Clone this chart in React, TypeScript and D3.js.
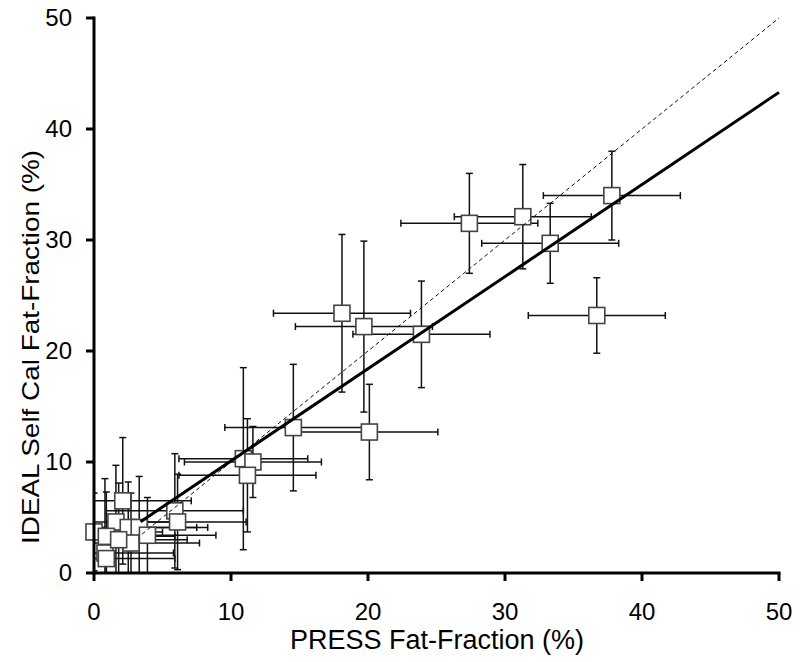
import React from "react";
import * as d3 from "d3";

// PRESS fat-fraction (x), IDEAL self-cal fat-fraction (y), and their error half-widths
const pressFF = [37.8, 31.3, 27.4, 33.3, 36.7, 23.9, 18.1, 19.7, 20.1, 14.55, 10.9, 11.6, 11.2,
  2.1, 1.6, 0.0, 0.9, 2.5, 3.3, 2.7, 3.9, 0.8, 0.9, 5.9, 6.1, 1.8];
const idealFF = [34.0, 32.1, 31.5, 29.7, 23.2, 21.5, 23.4, 22.2, 12.7, 13.1, 10.3, 10.0, 8.8,
  6.5, 4.6, 3.7, 3.3, 4.1, 4.1, 2.7, 3.4, 1.8, 1.3, 5.6, 4.6, 3.0];
const pressErr = [5.0, 5.0, 5.0, 5.0, 5.0, 5.0, 5.0, 5.0, 5.0, 5.0, 4.7, 5.0, 5.0,
  5.0, 5.0, 5.0, 5.0, 5.0, 5.0, 5.0, 5.0, 5.0, 5.0, 5.0, 5.0, 5.0];
const idealErr = [4.0, 4.7, 4.5, 3.6, 3.4, 4.8, 7.1, 7.7, 4.3, 5.7, 8.2, 3.2, 5.1,
  5.7, 5.1, 3.5, 4.0, 4.1, 4.6, 4.5, 3.4, 6.7, 2.5, 5.15, 4.3, 5.1];

// regression fit line and identity line endpoints (x values)
const fitX = [3.4, 50];
const fitSlope = 0.83;
const fitIntercept = 1.8;
const identityX = [3.5, 50];

const xTicks = [0, 10, 20, 30, 40, 50];
const yTicks = [0, 10, 20, 30, 40, 50];
const xTitle = "PRESS Fat-Fraction (%)";
const yTitle = "IDEAL Self Cal Fat-Fraction (%)";

const W = 800;
const H = 662;
const FONT = "'Liberation Sans', Arial, Helvetica, sans-serif";

export default function App() {
  const x = d3.scaleLinear().domain([0, 50]).range([94, 779]);
  const y = d3.scaleLinear().domain([0, 50]).range([573, 18]);
  const line = d3
    .line<[number, number]>()
    .x((d) => x(d[0]))
    .y((d) => y(d[1]));

  const fitPts: [number, number][] = fitX.map((v) => [v, fitIntercept + fitSlope * v]);
  const idPts: [number, number][] = identityX.map((v) => [v, v]);
  const pts = pressFF.map((v, i) => ({
    x: v,
    y: idealFF[i],
    ex: pressErr[i],
    ey: idealErr[i],
  }));
  const cap = 3.5;
  const sq = 16;

  return (
    <svg
      width={W}
      height={H}
      style={{ position: "absolute", left: 0, top: 0, background: "#fff" }}
      fontFamily={FONT}
    >
      <defs>
        <clipPath id="plot">
          <rect x={x(0)} y={y(50)} width={x(50) - x(0)} height={y(0) - y(50)} />
        </clipPath>
      </defs>

      {/* error bars */}
      <g clipPath="url(#plot)" stroke="#111" strokeWidth={1.5} fill="none">
        {pts.map((p, i) => (
          <g key={i}>
            <line x1={x(p.x - p.ex)} x2={x(p.x + p.ex)} y1={y(p.y)} y2={y(p.y)} />
            <line x1={x(p.x - p.ex)} x2={x(p.x - p.ex)} y1={y(p.y) - cap} y2={y(p.y) + cap} />
            <line x1={x(p.x + p.ex)} x2={x(p.x + p.ex)} y1={y(p.y) - cap} y2={y(p.y) + cap} />
            <line x1={x(p.x)} x2={x(p.x)} y1={y(p.y - p.ey)} y2={y(p.y + p.ey)} />
            <line x1={x(p.x) - cap} x2={x(p.x) + cap} y1={y(p.y + p.ey)} y2={y(p.y + p.ey)} />
            <line x1={x(p.x) - cap} x2={x(p.x) + cap} y1={y(p.y - p.ey)} y2={y(p.y - p.ey)} />
          </g>
        ))}
      </g>

      {/* markers */}
      <g>
        {pts.map((p, i) => (
          <rect
            key={i}
            x={x(p.x) - sq / 2}
            y={y(p.y) - sq / 2}
            width={sq}
            height={sq}
            fill="#fff"
            stroke="#444"
            strokeWidth={1.6}
          />
        ))}
      </g>

      {/* identity and fit lines */}
      <path d={line(idPts) || ""} fill="none" stroke="#111" strokeWidth={1} strokeDasharray="4,3" />
      <path d={line(fitPts) || ""} fill="none" stroke="#000" strokeWidth={3} />

      {/* axes */}
      <g stroke="#000" strokeWidth={3}>
        <line x1={x(0)} x2={x(0)} y1={y(50) - 1.5} y2={y(0) + 1.5} />
        <line x1={x(0) - 1.5} x2={x(50) + 1.5} y1={y(0)} y2={y(0)} />
        {yTicks.map((t) => (
          <line key={"yt" + t} x1={x(0) - 8} x2={x(0)} y1={y(t)} y2={y(t)} />
        ))}
        {xTicks.map((t) => (
          <line key={"xt" + t} x1={x(t)} x2={x(t)} y1={y(0)} y2={y(0) + 8} />
        ))}
      </g>

      <g fontSize={24} fill="#000">
        {yTicks.map((t) => (
          <text key={"yl" + t} x={72} y={y(t)} dy="0.35em" textAnchor="end">
            {t}
          </text>
        ))}
        {xTicks.map((t) => (
          <text key={"xl" + t} x={x(t)} y={620} textAnchor="middle">
            {t}
          </text>
        ))}
      </g>

      <text x={437} y={649} fontSize={27} textAnchor="middle" fill="#000">
        {xTitle}
      </text>
      <text
        transform="translate(39,347) rotate(-90)"
        fontSize={24}
        textAnchor="middle"
        fill="#000"
        textLength={394}
        lengthAdjust="spacingAndGlyphs"
      >
        {yTitle}
      </text>
    </svg>
  );
}
